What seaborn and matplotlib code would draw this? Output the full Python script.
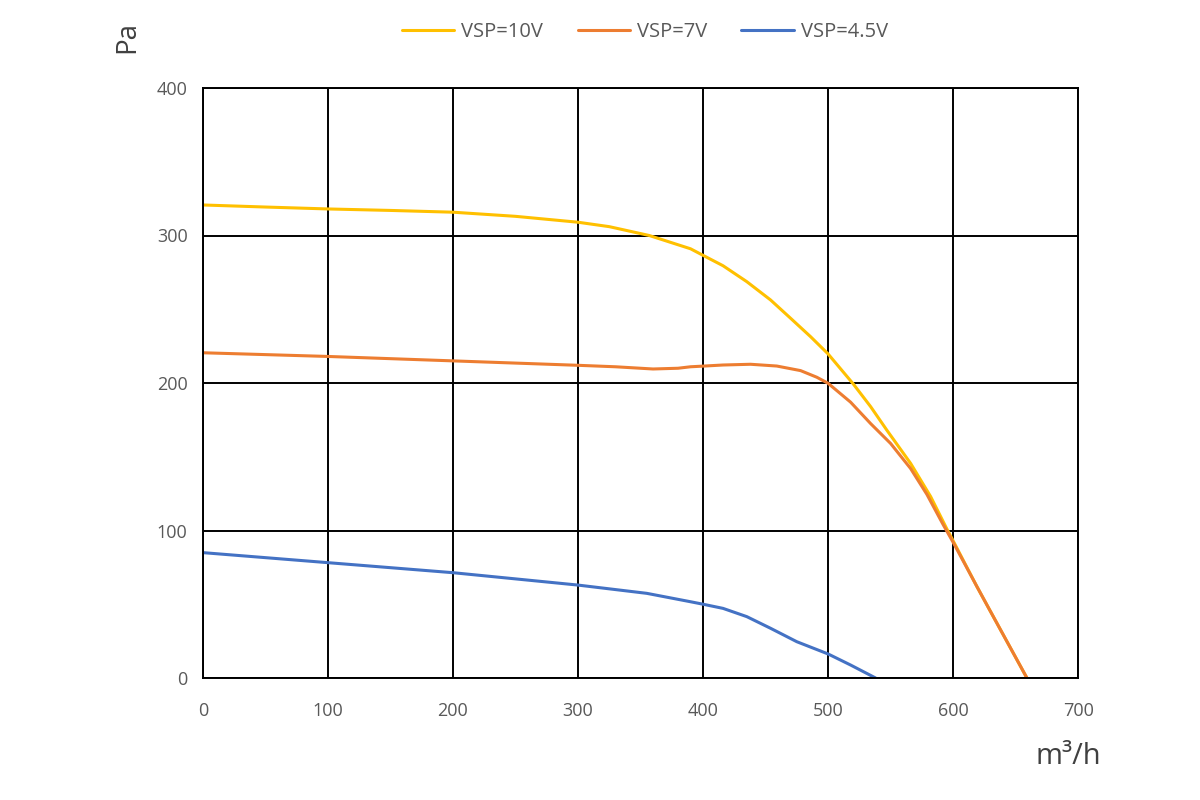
import matplotlib
matplotlib.use("Agg")
import matplotlib.pyplot as plt
import seaborn as sns
import pandas as pd

# fan curves (x in m³/h, y in Pa)
x_10v = [0, 50, 100, 150, 200, 250, 300, 325, 357, 390, 399, 416, 435, 454, 470, 486, 500,
         520, 534, 547, 566, 582, 595, 600, 619, 628, 659]
y_10v = [320.7, 319.3, 318, 317, 315.8, 313, 309, 306, 300, 291, 287, 279.5, 268.7, 256.3,
         243.9, 231.4, 219.7, 199.5, 184, 168, 145.5, 123, 101, 93, 62, 48, 0]

x_7v = [0, 100, 200, 300, 330, 360, 380, 390, 399, 416, 438, 459, 478, 491, 500, 518, 534,
        550, 566, 579, 592, 600, 619, 628, 659]
y_7v = [220.5, 218, 215, 212, 211, 209.5, 210, 211, 211.4, 212.2, 212.7, 211.5, 208.4, 203.9,
        199.8, 187, 172.5, 159, 142, 124.5, 104, 92, 62, 48, 0]

x_45v = [0, 100, 200, 300, 355, 390, 399, 416, 435, 454, 475, 500, 518, 538]
y_45v = [85, 78.2, 71.4, 63, 57.4, 51.7, 50.2, 47.2, 41.6, 33.7, 24.6, 16.3, 8.8, 0]

labels = ['VSP=10V', 'VSP=7V', 'VSP=4.5V']
colors = ['#FFC000', '#ED7D31', '#4472C4']

x_ticks = [0, 100, 200, 300, 400, 500, 600, 700]
y_ticks = [0, 100, 200, 300, 400]

sns.set_style('white')
plt.rcParams['font.family'] = ['Open Sans', 'DejaVu Sans']

fig = plt.figure(figsize=(12, 8), dpi=100)
ax = fig.add_axes([0.169, 0.1525, 0.7295, 0.7375])

series = [(x_10v, y_10v), (x_7v, y_7v), (x_45v, y_45v)]
for (xs, ys), lab, col in zip(series, labels, colors):
    d = pd.DataFrame({'x': xs, 'y': ys})
    sns.lineplot(data=d, x='x', y='y', ax=ax, color=col, label=lab,
                 linewidth=2.2, sort=False)

ax.set_xlim(0, 700)
ax.set_ylim(0, 400)
ax.set_xticks(x_ticks)
ax.set_yticks(y_ticks)
ax.grid(True, color='black', linewidth=1.4)
ax.set_axisbelow(True)
for s in ax.spines.values():
    s.set_color('black')
    s.set_linewidth(1.4)
ax.tick_params(length=0, labelsize=13, labelcolor='#595959')
ax.tick_params(axis='x', pad=17)
ax.tick_params(axis='y', pad=11)
ax.set_xlabel('')
ax.set_ylabel('')

ax.legend(loc='center', bbox_to_anchor=(0.5375, 0.96), bbox_transform=fig.transFigure,
          ncol=3, frameon=False, fontsize=14.5, handlelength=2.6, handletextpad=0.35,
          columnspacing=1.7, labelcolor='#595959')

fig.text(127 / 1200, 1 - 37 / 800, 'Pa', rotation=90, ha='center', va='center',
         fontsize=20, color='#404040')
fig.text(1068 / 1200, 1 - 757 / 800, 'm³/h', ha='center', va='center',
         fontsize=21, color='#404040')

fig.savefig('out.png', dpi=100, facecolor='white')
